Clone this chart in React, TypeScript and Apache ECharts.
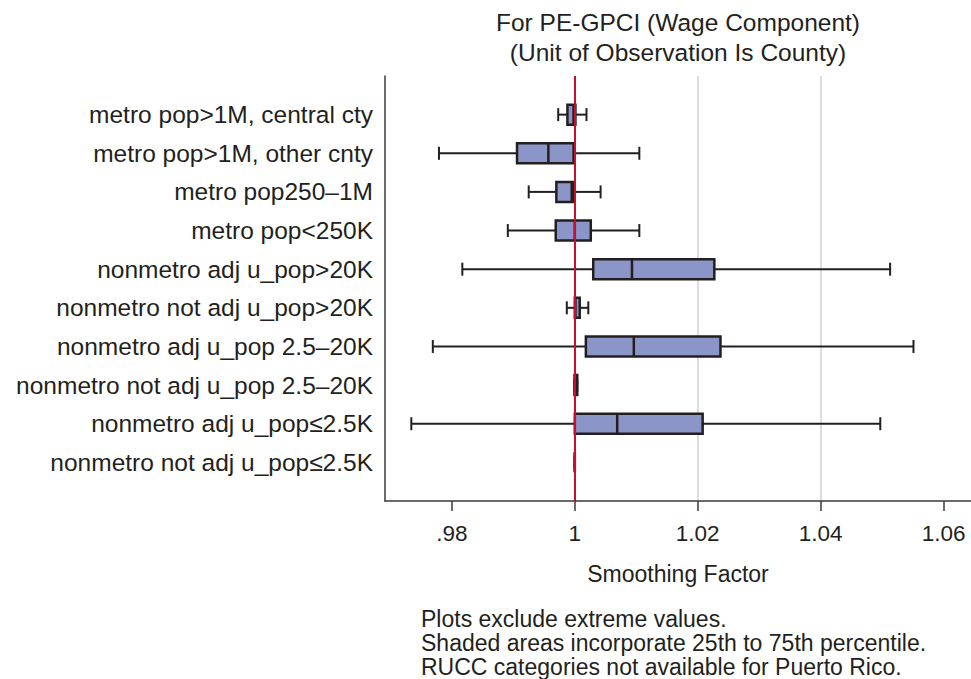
import React, { useEffect, useRef } from "react";
import * as echarts from "echarts";

const categories = [
  "metro pop>1M, central cty",
  "metro pop>1M, other cnty",
  "metro pop250–1M",
  "metro pop<250K",
  "nonmetro adj u_pop>20K",
  "nonmetro not adj u_pop>20K",
  "nonmetro adj u_pop 2.5–20K",
  "nonmetro not adj u_pop 2.5–20K",
  "nonmetro adj u_pop≤2.5K",
  "nonmetro not adj u_pop≤2.5K",
];
const lowWhisker = [0.9973, 0.9779, 0.9925, 0.9891, 0.9817, 0.9987, 0.9769, 0.99995, 0.9734, 1.0];
const q1 = [0.9988, 0.9906, 0.997, 0.9969, 1.003, 1.0, 1.0018, 0.99995, 1.0, 1.0];
const median = [0.9998, 0.9957, 0.9995, 1.0, 1.0093, 1.0001, 1.0096, 1.0002, 1.0069, 1.0];
const q3 = [1.0001, 0.9998, 0.9999, 1.0026, 1.0227, 1.0008, 1.0237, 1.0004, 1.0208, 1.0];
const highWhisker = [1.0019, 1.0105, 1.0042, 1.0105, 1.0513, 1.0022, 1.0551, 1.0004, 1.0497, 1.0];
const xTicks = [0.98, 1.0, 1.02, 1.04, 1.06];
const referenceValue = 1.0;
const titleLines = ["For PE-GPCI (Wage Component)", "(Unit of Observation Is County)"];
const xAxisName = "Smoothing Factor";
const notes = [
  "Plots exclude extreme values.",
  "Shaded areas incorporate 25th to 75th percentile.",
  "RUCC categories not available for Puerto Rico.",
];

const FONT = "'Liberation Sans', Arial, Helvetica, sans-serif";
const TEXT = "#231f20";
const BOX_FILL = "#8b95c8";
const BOX_STROKE = "#231f20";

function fmtTick(v: number): string {
  const s = (Math.round(v * 100) / 100).toString();
  return s.startsWith("0.") ? s.slice(1) : s;
}

export default function App() {
  const ref = useRef<HTMLDivElement>(null);
  useEffect(() => {
    if (!ref.current) return;
    const chart = echarts.init(ref.current, undefined, { renderer: "svg" });
    const data = categories.map((_, i) => [i, lowWhisker[i], q1[i], median[i], q3[i], highWhisker[i]]);
    chart.setOption({
      animation: false,
      backgroundColor: "#ffffff",
      textStyle: { fontFamily: FONT },
      title: {
        text: titleLines.join("\n"),
        left: 678,
        textAlign: "center",
        top: 8,
        padding: 0,
        textStyle: { fontFamily: FONT, fontSize: 24.5, fontWeight: "normal", color: TEXT, lineHeight: 29.5 },
      },
      grid: { left: 385, right: 0, top: 76, bottom: 178, containLabel: false },
      xAxis: {
        type: "value",
        min: 0.96912,
        max: 1.06446,
        name: xAxisName,
        nameLocation: "middle",
        nameGap: 61,
        nameTextStyle: { fontFamily: FONT, fontSize: 23, color: TEXT },
        axisLine: { show: true, lineStyle: { color: "#3a3a3a", width: 1.5 } },
        axisTick: { show: true, length: 10, customValues: xTicks, lineStyle: { color: "#3a3a3a", width: 1.5 } },
        axisLabel: {
          customValues: xTicks,
          formatter: (v: number) => fmtTick(v),
          fontFamily: FONT,
          fontSize: 22.5,
          color: TEXT,
          margin: 21,
        },
        splitLine: { show: true, showMinLine: false, showMaxLine: false, lineStyle: { color: "#d2d2d2", width: 1.5 } },
      },
      yAxis: {
        type: "category",
        data: categories,
        inverse: true,
        boundaryGap: false,
        min: -1,
        max: 10,
        axisLine: { show: true, lineStyle: { color: "#3a3a3a", width: 1.5 } },
        axisTick: { show: false },
        axisLabel: { fontFamily: FONT, fontSize: 24.5, color: TEXT, margin: 12, interval: 0 },
        splitLine: { show: false },
      },
      series: [
        {
          type: "line",
          data: [],
          z: 1,
          silent: true,
          markLine: {
            silent: true,
            symbol: "none",
            label: { show: false },
            lineStyle: { color: "#c8102e", width: 2, type: "solid" },
            data: [{ xAxis: referenceValue }],
          },
        },
        {
          type: "custom",
          z: 3,
          silent: true,
          encode: { x: [1, 2, 3, 4, 5], y: 0 },
          data,
          renderItem: (params: any, api: any) => {
            const yi = api.value(0);
            const lo = api.coord([api.value(1), yi]);
            const a = api.coord([api.value(2), yi]);
            const m = api.coord([api.value(3), yi]);
            const b = api.coord([api.value(4), yi]);
            const hi = api.coord([api.value(5), yi]);
            const y = lo[1];
            const boxH = 20;
            const capH = 13;
            const wStyle = { stroke: BOX_STROKE, lineWidth: 2 };
            return {
              type: "group",
              children: [
                { type: "line", shape: { x1: lo[0], y1: y, x2: a[0], y2: y }, style: wStyle },
                { type: "line", shape: { x1: b[0], y1: y, x2: hi[0], y2: y }, style: wStyle },
                { type: "line", shape: { x1: lo[0], y1: y - capH / 2, x2: lo[0], y2: y + capH / 2 }, style: wStyle },
                { type: "line", shape: { x1: hi[0], y1: y - capH / 2, x2: hi[0], y2: y + capH / 2 }, style: wStyle },
                {
                  type: "rect",
                  shape: { x: a[0], y: y - boxH / 2, width: b[0] - a[0], height: boxH },
                  style: { fill: BOX_FILL, stroke: BOX_STROKE, lineWidth: 2.5 },
                },
                {
                  type: "line",
                  shape: { x1: m[0], y1: y - boxH / 2, x2: m[0], y2: y + boxH / 2 },
                  style: { stroke: BOX_STROKE, lineWidth: 2.5 },
                },
              ],
            };
          },
        },
      ],
      graphic: [
        {
          type: "text",
          left: 421,
          top: 607,
          style: {
            text: notes.join("\n"),
            fontFamily: FONT,
            fontSize: 23,
            lineHeight: 24,
            fill: TEXT,
          },
        },
      ],
    });
    return () => chart.dispose();
  }, []);
  return <div ref={ref} style={{ width: 971, height: 679, position: "absolute", left: 0, top: 0 }} />;
}
